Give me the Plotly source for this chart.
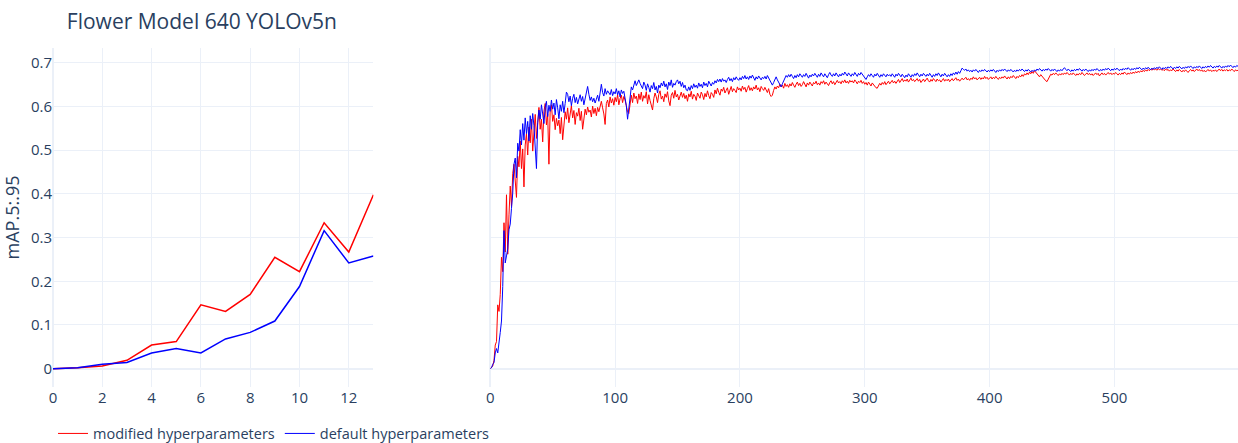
import plotly.graph_objects as go

# mAP@.5:.95 per epoch, YOLOv5n on the flower dataset at 640 px
modified_map = [
    0.000, 0.002, 0.006, 0.019, 0.054, 0.062, 0.146, 0.131, 0.170, 0.255,
    0.222, 0.334, 0.267, 0.398, 0.262, 0.352, 0.418, 0.371, 0.447, 0.468,
    0.425, 0.392, 0.486, 0.462, 0.521, 0.458, 0.503, 0.416, 0.512, 0.538,
    0.489, 0.553, 0.517, 0.571, 0.498, 0.546, 0.582, 0.527, 0.563, 0.598,
    0.548, 0.571, 0.519, 0.589, 0.607, 0.558, 0.583, 0.468, 0.592, 0.604,
    0.566, 0.581, 0.547, 0.573, 0.556, 0.569, 0.538, 0.575, 0.524, 0.566,
    0.588, 0.571, 0.597, 0.563, 0.584, 0.602, 0.574, 0.591, 0.559, 0.586,
    0.578, 0.596, 0.568, 0.589, 0.548, 0.573, 0.594, 0.581, 0.599, 0.587,
    0.592, 0.576, 0.601, 0.584, 0.596, 0.579, 0.598, 0.588, 0.604, 0.612,
    0.597, 0.583, 0.559, 0.607, 0.615, 0.599, 0.622, 0.608, 0.618, 0.603,
    0.621, 0.611, 0.627, 0.604, 0.618, 0.626, 0.609, 0.623, 0.615, 0.602,
    0.588, 0.584, 0.612, 0.626, 0.609, 0.631, 0.618, 0.624, 0.607, 0.629,
    0.616, 0.633, 0.612, 0.625, 0.619, 0.634, 0.606, 0.627, 0.614, 0.601,
    0.592, 0.618, 0.631, 0.622, 0.609, 0.628, 0.636, 0.617, 0.624, 0.611,
    0.629, 0.621, 0.634, 0.613, 0.602, 0.626, 0.632, 0.619, 0.637, 0.622,
    0.628, 0.615, 0.627, 0.633, 0.621, 0.630, 0.618, 0.626, 0.612, 0.629,
    0.622, 0.635, 0.617, 0.628, 0.624, 0.614, 0.631, 0.626, 0.619, 0.633,
    0.627, 0.616, 0.630, 0.622, 0.636, 0.625, 0.618, 0.632, 0.628, 0.621,
    0.638, 0.629, 0.642, 0.633, 0.626, 0.640, 0.635, 0.644, 0.631, 0.637,
    0.643, 0.628, 0.639, 0.646, 0.634, 0.641, 0.637, 0.632, 0.645, 0.638,
    0.642, 0.635, 0.647, 0.639, 0.644, 0.633, 0.641, 0.648, 0.637, 0.643,
    0.636, 0.645, 0.640, 0.649, 0.638, 0.643, 0.634, 0.646, 0.641, 0.637,
    0.644, 0.639, 0.632, 0.641, 0.628, 0.623, 0.626, 0.637, 0.645, 0.640,
    0.647, 0.643, 0.651, 0.645, 0.649, 0.642, 0.653, 0.646, 0.650, 0.644,
    0.652, 0.647, 0.655, 0.649, 0.644, 0.651, 0.656, 0.648, 0.653, 0.646,
    0.650, 0.657, 0.652, 0.645, 0.654, 0.649, 0.656, 0.651, 0.647, 0.655,
    0.652, 0.658, 0.650, 0.654, 0.649, 0.657, 0.653, 0.659, 0.651, 0.656,
    0.653, 0.648, 0.655, 0.659, 0.652, 0.657, 0.650, 0.656, 0.660, 0.654,
    0.657, 0.652, 0.659, 0.655, 0.661, 0.654, 0.658, 0.653, 0.660, 0.656,
    0.659, 0.654, 0.661, 0.657, 0.652, 0.658, 0.655, 0.660, 0.653, 0.657,
    0.651, 0.655, 0.649, 0.656, 0.652, 0.647, 0.654, 0.650, 0.645, 0.643,
    0.642, 0.648, 0.653, 0.649, 0.655, 0.651, 0.657, 0.650, 0.654, 0.658,
    0.652, 0.656, 0.660, 0.654, 0.658, 0.653, 0.659, 0.662, 0.655, 0.660,
    0.664, 0.657, 0.661, 0.658, 0.663, 0.656, 0.660, 0.665, 0.659, 0.662,
    0.657, 0.661, 0.664, 0.658, 0.662, 0.655, 0.660, 0.663, 0.657, 0.661,
    0.665, 0.659, 0.656, 0.662, 0.658, 0.664, 0.660, 0.657, 0.663, 0.659,
    0.661, 0.656, 0.660, 0.664, 0.658, 0.662, 0.659, 0.663, 0.657, 0.661,
    0.664, 0.659, 0.662, 0.666, 0.660, 0.663, 0.658, 0.662, 0.665, 0.661,
    0.663, 0.667, 0.661, 0.664, 0.660, 0.665, 0.662, 0.668, 0.663, 0.666,
    0.661, 0.664, 0.667, 0.662, 0.666, 0.663, 0.669, 0.664, 0.667, 0.662,
    0.665, 0.668, 0.663, 0.667, 0.664, 0.669, 0.665, 0.662, 0.667, 0.664,
    0.668, 0.665, 0.670, 0.666, 0.663, 0.668, 0.664, 0.669, 0.666, 0.671,
    0.667, 0.664, 0.669, 0.666, 0.671, 0.668, 0.673, 0.669, 0.675, 0.672,
    0.677, 0.673, 0.679, 0.675, 0.680, 0.676, 0.682, 0.678, 0.674, 0.671,
    0.668, 0.673, 0.669, 0.665, 0.662, 0.659, 0.657, 0.664, 0.670, 0.674,
    0.672, 0.676, 0.673, 0.677, 0.674, 0.671, 0.675, 0.672, 0.676, 0.673,
    0.677, 0.674, 0.678, 0.675, 0.672, 0.676, 0.673, 0.677, 0.674, 0.671,
    0.675, 0.672, 0.676, 0.673, 0.678, 0.675, 0.671, 0.674, 0.677, 0.673,
    0.676, 0.672, 0.675, 0.671, 0.674, 0.677, 0.673, 0.676, 0.670, 0.674,
    0.677, 0.673, 0.676, 0.672, 0.675, 0.678, 0.674, 0.677, 0.673, 0.676,
    0.674, 0.678, 0.675, 0.672, 0.676, 0.673, 0.677, 0.674, 0.679, 0.676,
    0.673, 0.677, 0.674, 0.678, 0.675, 0.679, 0.676, 0.680, 0.677, 0.681,
    0.678, 0.682, 0.679, 0.683, 0.680, 0.684, 0.681, 0.685, 0.682, 0.686,
    0.683, 0.687, 0.684, 0.686, 0.683, 0.687, 0.684, 0.686, 0.683, 0.685,
    0.682, 0.686, 0.683, 0.685, 0.681, 0.684, 0.682, 0.686, 0.683, 0.680,
    0.684, 0.681, 0.685, 0.682, 0.679, 0.683, 0.680, 0.684, 0.681, 0.678,
    0.682, 0.685, 0.681, 0.684, 0.680, 0.683, 0.686, 0.682, 0.685, 0.681,
    0.684, 0.680, 0.683, 0.679, 0.682, 0.685, 0.681, 0.684, 0.680, 0.683,
    0.681, 0.684, 0.680, 0.683, 0.686, 0.682, 0.685, 0.681, 0.684, 0.682,
    0.685, 0.681, 0.684, 0.682, 0.686, 0.683, 0.680, 0.684, 0.682, 0.683,
]

default_map = [
    0.000, 0.002, 0.010, 0.014, 0.036, 0.046, 0.036, 0.068, 0.083, 0.109,
    0.188, 0.316, 0.242, 0.258, 0.274, 0.318, 0.331, 0.367, 0.402, 0.468,
    0.482, 0.437, 0.516, 0.498, 0.547, 0.512, 0.561, 0.523, 0.574, 0.538,
    0.566, 0.521, 0.579, 0.548, 0.584, 0.556, 0.512, 0.458, 0.563, 0.592,
    0.571, 0.604, 0.583, 0.561, 0.598, 0.612, 0.577, 0.603, 0.589, 0.615,
    0.594, 0.608, 0.581, 0.616, 0.597, 0.572, 0.604, 0.589, 0.612, 0.586,
    0.607, 0.633, 0.628, 0.611, 0.624, 0.602, 0.619, 0.628, 0.609, 0.621,
    0.606, 0.618, 0.627, 0.612, 0.623, 0.604, 0.616, 0.631, 0.646, 0.628,
    0.614, 0.622, 0.611, 0.619, 0.608, 0.617, 0.626, 0.612, 0.638, 0.651,
    0.632, 0.624, 0.641, 0.628, 0.636, 0.631, 0.627, 0.639, 0.625, 0.634,
    0.629, 0.641, 0.627, 0.636, 0.622, 0.638, 0.630, 0.635, 0.619, 0.602,
    0.571, 0.598, 0.633, 0.645, 0.638, 0.652, 0.659, 0.648, 0.655, 0.661,
    0.653, 0.647, 0.641, 0.656, 0.649, 0.637, 0.652, 0.644, 0.633, 0.648,
    0.641, 0.655, 0.638, 0.646, 0.631, 0.649, 0.643, 0.654, 0.647, 0.658,
    0.645, 0.652, 0.639, 0.656, 0.648, 0.661, 0.644, 0.653, 0.649, 0.657,
    0.661, 0.652, 0.658, 0.646, 0.655, 0.643, 0.649, 0.638, 0.636, 0.645,
    0.637, 0.648, 0.641, 0.652, 0.644, 0.649, 0.642, 0.654, 0.646, 0.651,
    0.643, 0.656, 0.648, 0.653, 0.645, 0.658, 0.650, 0.647, 0.655, 0.651,
    0.659, 0.654, 0.662, 0.657, 0.663, 0.656, 0.664, 0.658, 0.661, 0.655,
    0.662, 0.667, 0.659, 0.664, 0.657, 0.666, 0.661, 0.668, 0.663, 0.660,
    0.666, 0.661, 0.669, 0.664, 0.671, 0.663, 0.668, 0.662, 0.670, 0.665,
    0.672, 0.666, 0.660, 0.668, 0.663, 0.670, 0.665, 0.661, 0.667, 0.664,
    0.669, 0.663, 0.671, 0.665, 0.658, 0.653, 0.649, 0.655, 0.662, 0.668,
    0.661, 0.656, 0.648, 0.645, 0.652, 0.660, 0.666, 0.671, 0.667, 0.673,
    0.668, 0.674, 0.669, 0.664, 0.671, 0.666, 0.673, 0.668, 0.675, 0.670,
    0.667, 0.673, 0.669, 0.676, 0.671, 0.665, 0.672, 0.668, 0.674, 0.670,
    0.676, 0.671, 0.667, 0.674, 0.669, 0.677, 0.672, 0.668, 0.675, 0.671,
    0.666, 0.673, 0.678, 0.672, 0.669, 0.675, 0.670, 0.677, 0.673, 0.668,
    0.674, 0.670, 0.676, 0.672, 0.679, 0.674, 0.670, 0.677, 0.673, 0.669,
    0.675, 0.671, 0.678, 0.673, 0.669, 0.676, 0.672, 0.678, 0.674, 0.670,
    0.666, 0.662, 0.668, 0.673, 0.669, 0.675, 0.671, 0.667, 0.674, 0.670,
    0.676, 0.671, 0.667, 0.673, 0.669, 0.675, 0.672, 0.668, 0.674, 0.670,
    0.673, 0.669, 0.675, 0.671, 0.667, 0.674, 0.670, 0.676, 0.672, 0.668,
    0.674, 0.670, 0.666, 0.672, 0.668, 0.675, 0.671, 0.667, 0.673, 0.669,
    0.675, 0.671, 0.677, 0.672, 0.668, 0.674, 0.670, 0.676, 0.672, 0.669,
    0.674, 0.670, 0.676, 0.672, 0.667, 0.673, 0.669, 0.675, 0.671, 0.677,
    0.672, 0.668, 0.674, 0.670, 0.676, 0.672, 0.668, 0.673, 0.669, 0.675,
    0.671, 0.677, 0.673, 0.679, 0.674, 0.680, 0.676, 0.682, 0.688, 0.685,
    0.683, 0.686, 0.681, 0.684, 0.680, 0.683, 0.679, 0.684, 0.681, 0.685,
    0.682, 0.678, 0.683, 0.680, 0.684, 0.681, 0.685, 0.682, 0.679, 0.683,
    0.680, 0.684, 0.681, 0.685, 0.682, 0.678, 0.683, 0.680, 0.684, 0.681,
    0.685, 0.682, 0.686, 0.683, 0.680, 0.684, 0.681, 0.685, 0.682, 0.679,
    0.683, 0.680, 0.684, 0.681, 0.685, 0.682, 0.686, 0.683, 0.680, 0.684,
    0.681, 0.685, 0.682, 0.679, 0.683, 0.680, 0.684, 0.681, 0.686, 0.683,
    0.687, 0.684, 0.681, 0.685, 0.682, 0.686, 0.683, 0.687, 0.684, 0.681,
    0.685, 0.682, 0.686, 0.683, 0.680, 0.684, 0.681, 0.685, 0.682, 0.686,
    0.689, 0.685, 0.682, 0.686, 0.683, 0.680, 0.684, 0.681, 0.685, 0.682,
    0.686, 0.683, 0.687, 0.684, 0.681, 0.685, 0.682, 0.686, 0.683, 0.680,
    0.684, 0.681, 0.685, 0.682, 0.686, 0.683, 0.687, 0.684, 0.681, 0.685,
    0.682, 0.686, 0.683, 0.687, 0.684, 0.688, 0.685, 0.682, 0.686, 0.683,
    0.687, 0.684, 0.688, 0.685, 0.682, 0.686, 0.683, 0.687, 0.684, 0.688,
    0.685, 0.689, 0.686, 0.683, 0.687, 0.684, 0.688, 0.685, 0.689, 0.686,
    0.690, 0.687, 0.684, 0.688, 0.685, 0.689, 0.686, 0.690, 0.687, 0.684,
    0.688, 0.685, 0.689, 0.686, 0.690, 0.687, 0.691, 0.688, 0.685, 0.689,
    0.686, 0.690, 0.687, 0.691, 0.688, 0.692, 0.689, 0.686, 0.690, 0.687,
    0.691, 0.688, 0.692, 0.689, 0.686, 0.690, 0.687, 0.691, 0.688, 0.692,
    0.689, 0.693, 0.690, 0.687, 0.691, 0.688, 0.692, 0.689, 0.693, 0.690,
    0.687, 0.691, 0.688, 0.692, 0.689, 0.693, 0.690, 0.694, 0.691, 0.688,
    0.692, 0.689, 0.693, 0.690, 0.694, 0.691, 0.688, 0.692, 0.689, 0.693,
    0.690, 0.694, 0.691, 0.695, 0.692, 0.689, 0.693, 0.690, 0.694, 0.692,
]

epochs = list(range(len(modified_map)))
zoom_epochs = 14  # first epochs shown in the left panel

title_text = "Flower Model 640 YOLOv5n"
y_title = "mAP.5:.95"
modified_name = "modified hyperparameters"
default_name = "default hyperparameters"

fig = go.Figure()

# left panel: early epochs
fig.add_trace(go.Scatter(x=epochs[:zoom_epochs], y=modified_map[:zoom_epochs],
                         mode="lines", line=dict(color="red", width=1.5),
                         name=modified_name, showlegend=False,
                         xaxis="x", yaxis="y"))
fig.add_trace(go.Scatter(x=epochs[:zoom_epochs], y=default_map[:zoom_epochs],
                         mode="lines", line=dict(color="blue", width=1.5),
                         name=default_name, showlegend=False,
                         xaxis="x", yaxis="y"))

# right panel: full training run
fig.add_trace(go.Scatter(x=epochs, y=modified_map, mode="lines",
                         line=dict(color="red", width=1),
                         name=modified_name, xaxis="x2", yaxis="y2"))
fig.add_trace(go.Scatter(x=epochs, y=default_map, mode="lines",
                         line=dict(color="blue", width=1),
                         name=default_name, xaxis="x2", yaxis="y2"))

y_range = [-0.042, 0.734]

fig.update_layout(
    template="plotly_white",
    width=1238,
    height=443,
    font=dict(size=15),
    margin=dict(l=53, r=0, t=48, b=56, autoexpand=False),
    title=dict(text=title_text, font=dict(size=21), x=0.054, xanchor="left",
               y=0.952, yanchor="middle"),
    xaxis=dict(domain=[0, 0.2704], range=[0, zoom_epochs - 1], dtick=2,
               automargin=False),
    yaxis=dict(range=y_range, dtick=0.1, automargin=False,
               title=dict(text=y_title, font=dict(size=18))),
    xaxis2=dict(domain=[0.369, 1.0], range=[0, len(epochs) - 1], dtick=100,
                automargin=False),
    yaxis2=dict(range=y_range, dtick=0.1, anchor="x2", matches="y",
                showticklabels=False, automargin=False),
    legend=dict(orientation="h", x=0, y=-0.09, yanchor="top",
                font=dict(size=14.5)),
)

fig.write_html("out.html")
